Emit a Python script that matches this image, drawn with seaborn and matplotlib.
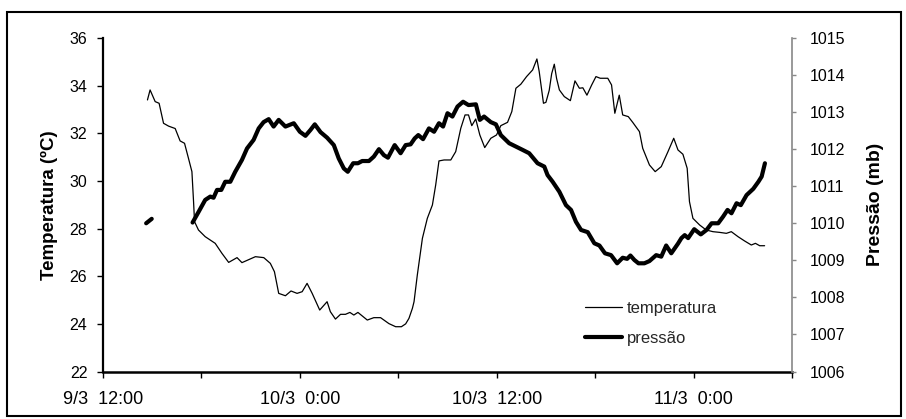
import matplotlib
matplotlib.use("Agg")
import matplotlib.pyplot as plt
from matplotlib.patches import Rectangle
from matplotlib.lines import Line2D
import seaborn as sns
import pandas as pd

# Hours since 9/3 12:00
temp_hours = [2.71, 2.87, 3.18, 3.42, 3.69, 4.00, 4.40, 4.70, 4.97, 5.21, 5.42, 5.52, 5.58,
              5.82, 6.23, 6.84, 7.25, 7.66, 8.17, 8.47, 9.29, 9.80, 10.20, 10.45, 10.71,
              11.12, 11.46, 11.83, 12.14, 12.44, 12.75, 13.21, 13.66, 13.86, 14.17, 14.48,
              14.78, 15.05, 15.29, 15.54, 16.11, 16.51, 16.92, 17.43, 17.84, 18.19, 18.45,
              18.65, 18.86, 18.96, 19.16, 19.47, 19.77, 20.08, 20.28, 20.48, 20.79, 21.20,
              21.50, 21.81, 22.07, 22.28, 22.48, 22.72, 22.97, 23.27, 23.64, 23.99, 24.25,
              24.66, 24.92, 25.17, 25.47, 25.82, 26.19, 26.45, 26.59, 26.85, 27.00, 27.20,
              27.35, 27.51, 27.65, 27.82, 28.12, 28.49, 28.77, 29.04, 29.25, 29.50, 29.79,
              30.05, 30.31, 30.77, 31.00, 31.20, 31.47, 31.68, 32.02, 32.29, 32.70, 32.90,
              33.31, 33.66, 34.03, 34.44, 34.79, 35.05, 35.35, 35.61, 35.75, 35.96, 36.37,
              36.77, 37.18, 37.59, 38.00, 38.30, 38.71, 39.11, 39.52, 39.77, 40.03, 40.33]
temp = [33.40, 33.82, 33.33, 33.26, 32.42, 32.30, 32.20, 31.68, 31.58, 30.95, 30.39, 29.13, 28.29,
        27.94, 27.66, 27.38, 26.96, 26.58, 26.78, 26.57, 26.82, 26.78, 26.54, 26.19, 25.28,
        25.18, 25.38, 25.28, 25.35, 25.70, 25.28, 24.58, 24.93, 24.51, 24.20, 24.40,
        24.40, 24.48, 24.37, 24.48, 24.16, 24.26, 24.26, 24.01, 23.88, 23.88, 24.00,
        24.23, 24.65, 24.93, 26.05, 27.59, 28.43, 28.99, 29.83, 30.84, 30.88, 30.88,
        31.23, 32.21, 32.77, 32.77, 32.32, 32.60, 31.93, 31.40, 31.79, 31.93, 32.32,
        32.46, 32.91, 33.89, 34.06, 34.38, 34.66, 35.12, 34.59, 33.26, 33.30, 33.80,
        34.50, 34.90, 34.30, 33.82, 33.54, 33.37, 34.20, 33.89, 33.91, 33.60, 34.03,
        34.38, 34.31, 34.31, 34.03, 32.84, 33.60, 32.77, 32.70, 32.46, 32.07, 31.37,
        30.67, 30.39, 30.60, 31.23, 31.79, 31.30, 31.12, 30.53, 29.13, 28.43, 28.15,
        27.94, 27.87, 27.84, 27.80, 27.87, 27.66, 27.48, 27.31, 27.38, 27.28, 27.28]

# Short first pressure record, then the continuous series
pres_hours_first = [2.63, 2.97]
pres_first = [1010.00, 1010.12]

pres_hours = [5.46, 5.83, 6.23, 6.54, 6.74, 6.95, 7.21, 7.45, 7.76, 8.06, 8.47, 8.78, 9.18,
              9.49, 9.79, 10.10, 10.40, 10.71, 11.12, 11.63, 12.00, 12.34, 12.65, 12.91,
              13.26, 13.66, 14.07, 14.37, 14.68, 14.92, 15.25, 15.54, 15.80, 16.21, 16.51,
              16.82, 17.12, 17.37, 17.78, 18.14, 18.45, 18.75, 19.00, 19.22, 19.51, 19.87,
              20.18, 20.48, 20.73, 21.00, 21.30, 21.61, 21.95, 22.28, 22.73, 22.97, 23.23,
              23.64, 23.95, 24.25, 24.76, 25.17, 25.58, 25.98, 26.49, 26.90, 27.10, 27.41,
              27.82, 28.22, 28.53, 28.83, 29.14, 29.55, 29.95, 30.26, 30.60, 30.97, 31.34,
              31.68, 31.95, 32.15, 32.39, 32.64, 33.00, 33.31, 33.72, 34.03, 34.33, 34.64,
              35.05, 35.26, 35.46, 35.67, 36.04, 36.44, 36.79, 37.10, 37.50, 37.80, 38.07,
              38.31, 38.62, 38.88, 39.23, 39.64, 39.95, 40.15, 40.35]
pres = [1010.02, 1010.31, 1010.63, 1010.72, 1010.69, 1010.90, 1010.90, 1011.12, 1011.12,
        1011.39, 1011.71, 1012.02, 1012.25, 1012.56, 1012.73, 1012.81, 1012.61, 1012.79,
        1012.61, 1012.70, 1012.47, 1012.36, 1012.52, 1012.67, 1012.46, 1012.31, 1012.11,
        1011.75, 1011.48, 1011.39, 1011.62, 1011.62, 1011.68, 1011.68, 1011.80, 1012.00,
        1011.84, 1011.77, 1012.11, 1011.89, 1012.11, 1012.13, 1012.29, 1012.38, 1012.27,
        1012.56, 1012.47, 1012.70, 1012.61, 1012.97, 1012.88, 1013.15, 1013.28, 1013.19,
        1013.21, 1012.79, 1012.88, 1012.73, 1012.67, 1012.38, 1012.16, 1012.07, 1011.98,
        1011.89, 1011.62, 1011.53, 1011.30, 1011.12, 1010.85, 1010.49, 1010.36, 1010.04,
        1009.82, 1009.76, 1009.46, 1009.40, 1009.19, 1009.14, 1008.92, 1009.07, 1009.04,
        1009.13, 1009.01, 1008.92, 1008.92, 1008.98, 1009.14, 1009.10, 1009.40, 1009.19,
        1009.45, 1009.60, 1009.68, 1009.60, 1009.84, 1009.70, 1009.82, 1010.00, 1010.00,
        1010.18, 1010.36, 1010.27, 1010.54, 1010.49, 1010.76, 1010.93, 1011.12, 1011.26,
        1011.62]

tick_hours = [0, 6, 12, 18, 24, 30, 36, 42]
tick_labels = ["9/3  12:00", "", "10/3  0:00", "", "10/3  12:00", "", "11/3  0:00", ""]
temp_ticks = [22, 24, 26, 28, 30, 32, 34, 36]
pres_ticks = [1006, 1007, 1008, 1009, 1010, 1011, 1012, 1013, 1014, 1015]

sns.set_theme(style="white")
plt.rcParams["font.family"] = ["Liberation Sans", "DejaVu Sans"]

fig = plt.figure(figsize=(9.06, 4.19), dpi=100)
ax = fig.add_axes([103 / 906, 1 - 371.5 / 419, 689 / 906, 333.5 / 419])
ax2 = ax.twinx()

df_t = pd.DataFrame({"hora": temp_hours, "temperatura": temp})
df_p1 = pd.DataFrame({"hora": pres_hours_first, "pressao": pres_first})
df_p = pd.DataFrame({"hora": pres_hours, "pressao": pres})

sns.lineplot(data=df_t, x="hora", y="temperatura", ax=ax, color="black",
             linewidth=0.9, sort=False, estimator=None, legend=False)
sns.lineplot(data=df_p1, x="hora", y="pressao", ax=ax2, color="black",
             linewidth=3.0, sort=False, estimator=None, legend=False)
sns.lineplot(data=df_p, x="hora", y="pressao", ax=ax2, color="black",
             linewidth=3.0, sort=False, estimator=None, legend=False)

ax.set_xlim(0, 42)
ax.set_ylim(22, 36)
ax2.set_ylim(1006, 1015)
ax.set_xticks(tick_hours)
ax.set_xticklabels(tick_labels)
ax.set_yticks(temp_ticks)
ax2.set_yticks(pres_ticks)

for s in ["top", "right"]:
    ax.spines[s].set_visible(False)
for s in ["top", "left", "bottom"]:
    ax2.spines[s].set_visible(False)
ax.spines["left"].set_color("black")
ax.spines["left"].set_linewidth(1.6)
ax.spines["bottom"].set_color("black")
ax.spines["bottom"].set_linewidth(1.8)
ax2.spines["right"].set_visible(True)
ax2.spines["right"].set_color("#888888")
ax2.spines["right"].set_linewidth(1.2)

ax.tick_params(axis="x", direction="out", length=4, width=1, color="black",
               labelsize=13, pad=10, bottom=True, labelcolor="black")
ax.tick_params(axis="y", direction="out", length=4.3, width=1, color="black",
               labelsize=11.5, pad=7, left=True, labelcolor="black")
ax2.tick_params(axis="y", direction="out", length=3, width=1, color="#888888",
                labelsize=11.5, pad=9.5, right=True, labelcolor="black")

ax.set_xlabel("")
ax.set_ylabel("Temperatura (ºC)", fontsize=13.5, fontweight="bold", color="black")
ax.yaxis.set_label_coords(-0.066, 0.5)
ax2.set_ylabel("Pressão (mb)", fontsize=14, fontweight="bold", color="black",
               rotation=90)
ax2.yaxis.set_label_coords(1.109, 0.5)
ax.grid(False)
ax2.grid(False)

handles = [Line2D([], [], color="black", linewidth=0.9),
           Line2D([], [], color="black", linewidth=3.0)]
ax2.legend(handles, ["temperatura", "pressão"], loc="center left",
           bbox_to_anchor=(0.700, 0.143), frameon=False, fontsize=12,
           handlelength=2.2, handletextpad=0.3, labelspacing=0.9,
           borderpad=0, borderaxespad=0)

fig.patches.append(Rectangle((7 / 906, 1 - 416 / 419), 894 / 906, 404 / 419,
                             transform=fig.transFigure, fill=False,
                             edgecolor="black", linewidth=1.5))

fig.savefig("out.png", dpi=100)
